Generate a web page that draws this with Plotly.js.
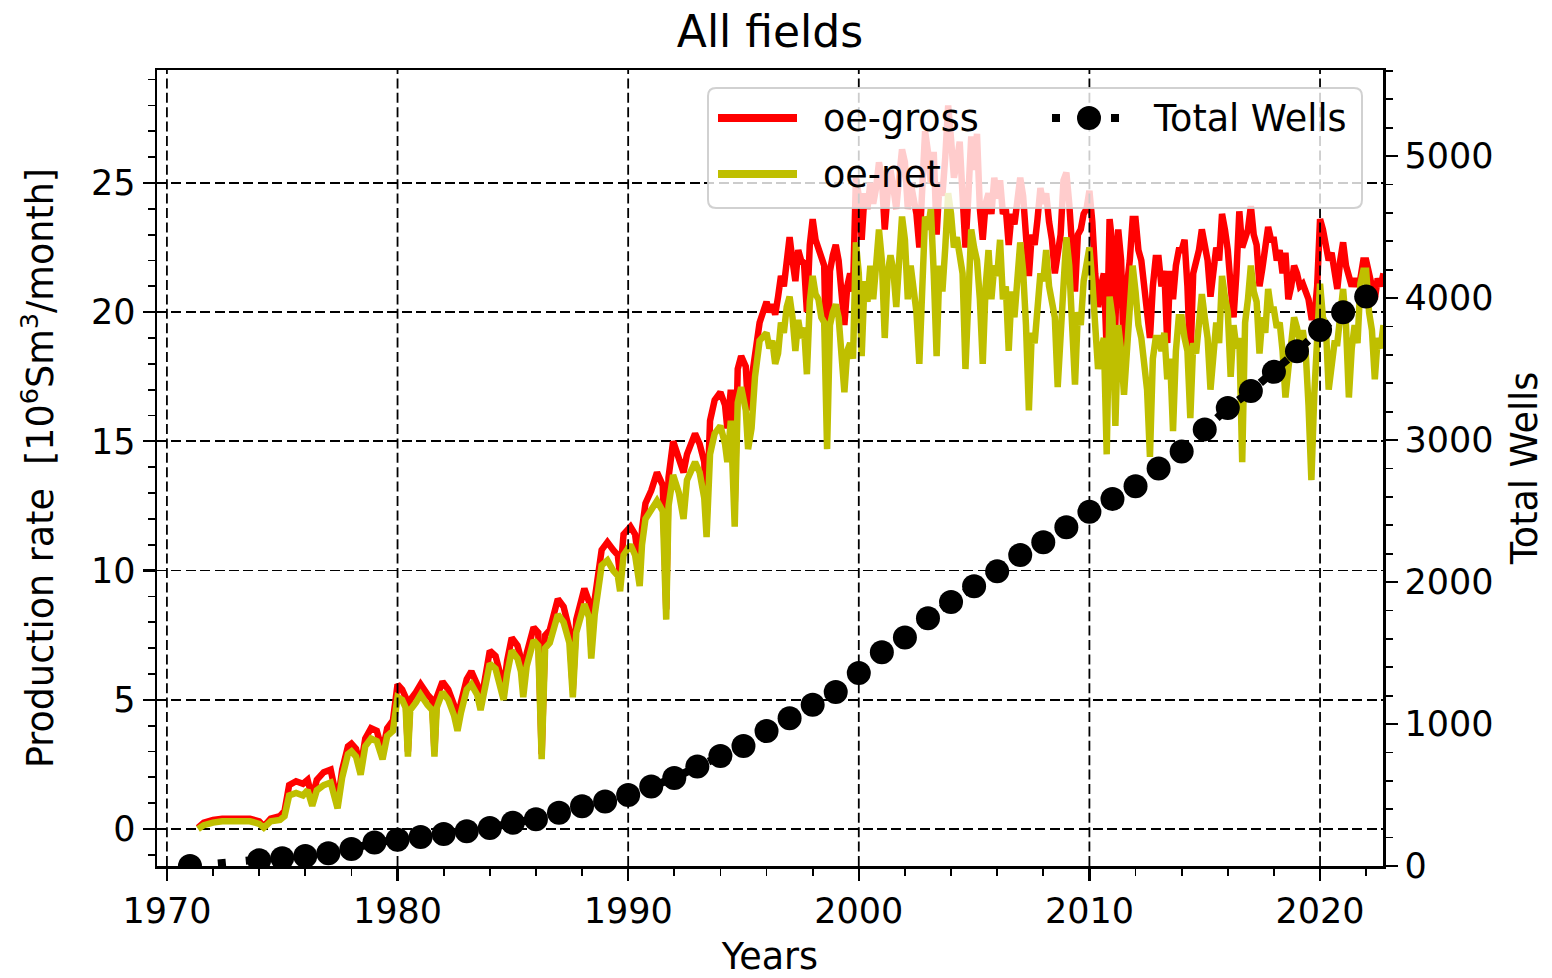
<!DOCTYPE html>
<html>
<head>
<meta charset="utf-8">
<script src="https://cdn.plot.ly/plotly-3.0.1.min.js"></script>
<style>
  html, body { margin: 0; padding: 0; background: #ffffff; }
  #chart { width: 1552px; height: 978px; }
</style>
</head>
<body>
<div id="chart"></div>
<script>
// Early production period: time stamps (decimal years)
const earlyYears = [
  1971.35, 1971.6, 1972.0, 1972.4, 1973.0, 1973.6, 1974.0, 1974.2, 1974.5, 1974.9,
  1975.1, 1975.3, 1975.6, 1975.9, 1976.1, 1976.3, 1976.5, 1976.8, 1977.1, 1977.4, 1977.6, 1977.85, 1978.0, 1978.2, 1978.4, 1978.6, 1978.85, 1979.1, 1979.35, 1979.55, 1979.8,
  1980.0, 1980.2, 1980.35, 1980.45, 1980.55, 1980.8, 1981.0, 1981.3, 1981.5, 1981.6, 1981.7, 1981.95, 1982.2, 1982.45, 1982.6, 1982.75, 1983.0, 1983.2, 1983.45, 1983.6, 1983.75, 1984.0, 1984.25, 1984.45, 1984.6, 1984.75, 1984.95,
  1985.2, 1985.35, 1985.45, 1985.6, 1985.9, 1986.1, 1986.25, 1986.4, 1986.6, 1986.95, 1987.2, 1987.45, 1987.6, 1987.75, 1988.1, 1988.3, 1988.4, 1988.55, 1988.85, 1989.1, 1989.35, 1989.55, 1989.65, 1989.8,
  1990.1, 1990.3, 1990.5, 1990.6, 1990.75, 1991.0, 1991.25, 1991.5, 1991.65, 1991.75, 1991.95, 1992.2, 1992.4, 1992.55, 1992.9, 1993.1, 1993.3, 1993.4, 1993.55, 1993.75, 1994.0, 1994.2, 1994.3, 1994.45, 1994.62, 1994.75, 1994.9,
  1995.1, 1995.2, 1995.35, 1995.5, 1995.7
];
// oe-gross, early period [10^6 Sm3/month]
const earlyGross = [
  0.05, 0.25, 0.35, 0.4, 0.4, 0.4, 0.3, 0.1, 0.4, 0.5,
  0.7, 1.7, 1.85, 1.75, 1.9, 1.2, 1.9, 2.2, 2.3, 1.0, 2.3, 3.2, 3.3, 3.1, 2.4, 3.5, 3.9, 3.8, 3.0, 3.9, 4.2,
  5.6, 5.4, 5.1, 3.0, 5.0, 5.3, 5.6, 5.2, 5.0, 3.0, 5.1, 5.7, 5.4, 4.8, 4.2, 4.9, 5.8, 6.1, 5.6, 5.0, 5.6, 6.9, 6.7, 6.0, 5.4, 6.5, 7.4,
  7.1, 6.6, 5.5, 6.8, 7.8, 7.6, 2.9, 7.5, 7.7, 8.9, 8.6, 7.7, 5.4, 8.1, 9.3, 8.8, 7.0, 8.9, 10.8, 11.1, 10.8, 10.6, 9.8, 11.4,
  11.7, 11.4, 10.0, 11.6, 12.6, 13.1, 13.8, 13.3, 8.5, 13.6, 15.0, 14.3, 13.8, 14.5, 15.3, 14.9, 14.2, 12.0, 15.8, 16.6, 16.9, 16.4, 15.5, 17.0, 12.5, 17.8, 18.3,
  17.9, 16.2, 17.4, 18.5, 19.6
];
// oe-net, early period [10^6 Sm3/month]
const earlyNet = [
  0.0, 0.15, 0.25, 0.3, 0.3, 0.3, 0.2, 0.05, 0.3, 0.35,
  0.5, 1.3, 1.4, 1.3, 1.5, 0.9, 1.5, 1.7, 1.8, 0.8, 2.0, 2.9, 3.0, 2.8, 2.1, 3.2, 3.5, 3.4, 2.7, 3.6, 3.8,
  5.1, 5.0, 4.7, 2.8, 4.6, 4.9, 5.2, 4.8, 4.6, 2.8, 4.7, 5.3, 5.0, 4.4, 3.8, 4.5, 5.4, 5.6, 5.2, 4.6, 5.2, 6.4, 6.2, 5.6, 5.0, 6.0, 6.9,
  6.6, 6.1, 5.1, 6.3, 7.3, 7.1, 2.7, 7.0, 7.2, 8.3, 8.0, 7.2, 5.1, 7.6, 8.7, 8.2, 6.6, 8.3, 10.2, 10.4, 10.0, 9.8, 9.2, 10.6,
  11.0, 10.6, 9.4, 11.0, 12.0, 12.3, 12.7, 12.3, 8.1, 12.5, 13.7, 13.0, 12.0, 13.5, 14.2, 13.8, 12.8, 11.3, 14.5, 15.3, 15.6, 14.9, 14.2, 15.8, 11.7, 16.5, 17.1,
  16.2, 14.7, 15.5, 17.5, 18.9
];

// Later production period: eight samples per year starting in 1996
const lateStartYear = 1996;
const samplesPerYear = 8;
const lateGross = [
  20.4, 20.0, 20.3, 19.9, 20.6, 21.4, 21.0, 22.0,
  22.9, 22.0, 21.2, 22.4, 22.0, 21.9, 20.0, 22.6,
  23.6, 22.8, 22.4, 22.0, 21.8, 16.5, 21.6, 22.2,
  22.6, 22.0, 21.0, 19.5, 21.0, 21.5, 20.8, 25.2,
  24.5, 22.8, 24.6, 24.0, 25.0, 24.2, 24.8, 25.8,
  25.2, 23.2, 24.6, 25.5, 24.8, 24.0, 25.2, 26.3,
  25.8, 24.0, 25.0, 24.4, 23.8, 22.5, 24.8, 27.0,
  26.2, 25.0, 26.2, 23.0, 25.0, 24.5, 26.0, 28.0,
  26.7, 25.2, 25.8, 26.6, 24.5, 22.5, 24.5, 26.8,
  25.5, 26.9, 24.0, 22.8, 24.2, 24.6, 23.8, 25.2,
  24.4, 25.1, 23.8, 24.0, 22.6, 23.8, 23.4, 24.5,
  25.2, 24.5, 23.0, 21.4, 23.0, 22.6, 23.6, 24.8,
  24.2, 24.6, 23.5, 22.8, 21.5, 22.2, 23.0, 25.1,
  25.4, 24.2, 22.6, 20.8, 23.0, 23.2, 23.8, 24.0,
  24.7, 23.5, 21.5, 20.2, 21.0, 21.5, 18.5, 23.6,
  22.6, 19.5, 23.2, 22.0, 17.9, 21.0, 22.0, 23.6,
  23.6, 22.4, 22.0, 21.0, 20.2, 19.0, 21.0, 22.1,
  22.1, 21.0, 21.6, 18.8, 21.6, 20.5, 21.8, 22.4,
  22.4, 22.8, 21.0, 18.0, 21.5, 22.0, 22.4, 23.2,
  22.6, 22.0, 20.6, 21.5, 22.5, 22.0, 23.8, 23.2,
  22.4, 21.0, 19.8, 21.5, 23.9, 22.5, 22.8, 23.2,
  24.1, 23.0, 22.6, 21.0, 21.7, 22.5, 23.3, 22.8,
  22.8, 22.0, 22.4, 21.5, 22.3, 20.5, 21.0, 21.8,
  21.5, 21.0, 21.1, 20.8, 20.5, 19.8, 19.8, 21.0,
  23.6, 23.2, 22.5, 22.0, 22.3, 21.5, 20.9, 22.0,
  22.7, 21.8, 21.4, 21.0, 21.3, 21.0, 21.3, 22.0,
  22.0, 21.6, 21.0, 20.5, 21.3, 21.0, 21.5
];
const lateNet = [
  19.2, 18.6, 18.9, 18.0, 18.4, 19.6, 19.2, 20.2,
  20.6, 19.8, 18.5, 19.7, 19.0, 19.4, 17.6, 20.4,
  21.4, 20.7, 20.5, 19.8, 19.6, 14.7, 19.5, 20.0,
  20.3, 19.8, 18.5, 16.9, 18.5, 18.8, 18.2, 22.7,
  21.5, 18.3, 21.2, 20.4, 21.8, 20.5, 21.8, 23.2,
  22.0, 19.0, 21.5, 22.2, 21.6, 20.2, 22.0, 23.7,
  22.8, 20.5, 21.8, 21.0, 20.0, 18.0, 21.5, 23.7,
  23.2, 24.0, 21.5, 18.3, 21.8, 20.8, 22.5, 24.6,
  23.8, 22.5, 22.9, 22.0, 21.5, 17.8, 21.0, 23.2,
  22.5, 22.0, 20.5, 18.0, 21.0, 22.4, 20.5, 21.8,
  21.4, 22.8, 20.5, 21.0, 18.5, 20.8, 19.8, 21.5,
  22.7, 21.6, 19.5, 16.2, 19.2, 18.8, 20.6, 21.5,
  21.2, 22.4, 21.0, 20.2, 19.8, 17.1, 19.5, 21.0,
  22.9, 21.8, 19.5, 17.2, 20.0, 19.5, 21.2, 21.8,
  22.5, 21.2, 19.0, 17.8, 18.5, 19.0, 14.5, 20.6,
  19.8, 15.6, 19.5, 18.5, 16.8, 18.5, 20.0, 21.8,
  20.8, 19.5, 19.0, 18.0, 17.0, 14.4, 18.2, 19.0,
  19.0, 18.5, 19.2, 17.4, 18.2, 15.4, 18.5, 19.8,
  19.8, 19.0, 18.5, 15.9, 18.8, 18.4, 19.5, 20.7,
  19.8, 19.0, 17.0, 18.5, 19.6, 18.8, 21.4, 20.6,
  20.0, 17.5, 19.5, 18.6, 19.0, 14.2, 19.6, 20.5,
  21.8, 20.8, 20.4, 18.4, 19.8, 19.2, 20.9, 20.1,
  20.1, 19.4, 19.6, 18.5, 16.7, 17.8, 18.6, 19.8,
  19.4, 18.8, 19.3, 18.5, 16.4, 13.5, 16.8, 19.5,
  21.1, 19.8, 19.5, 17.0, 18.2, 18.8, 18.8, 19.8,
  20.9, 19.5, 16.7, 18.6, 19.5, 18.8, 21.1, 21.6,
  21.6, 20.0, 19.3, 17.4, 19.0, 18.6, 19.5
];

// Total wells per year
const wellYears = [
  1971, 1974, 1975, 1976, 1977, 1978, 1979, 1980, 1981, 1982, 1983, 1984, 1985, 1986, 1987, 1988, 1989,
  1990, 1991, 1992, 1993, 1994, 1995, 1996, 1997, 1998, 1999, 2000, 2001, 2002, 2003, 2004, 2005, 2006,
  2007, 2008, 2009, 2010, 2011, 2012, 2013, 2014, 2015, 2016, 2017, 2018, 2019, 2020, 2021, 2022
];
const totalWells = [
  0, 40, 55, 70, 90, 120, 165, 185, 205, 225, 245, 268, 305, 330, 375, 420, 455,
  500, 560, 620, 700, 775, 845, 950, 1040, 1135, 1225, 1360, 1505, 1610, 1745, 1860, 1970, 2075,
  2190, 2280, 2385, 2495, 2585, 2675, 2800, 2920, 3075, 3225, 3345, 3480, 3625, 3775, 3900, 4010
];

// Major x tick positions (used for the vertical grid)
const decadeTicks = [1970, 1980, 1990, 2000, 2010, 2020];

// Join the two periods into one monthly-style series
const lateYears = lateGross.map((_, i) => lateStartYear + i / samplesPerYear);
const prodYears = earlyYears.concat(lateYears);
const oeGross = earlyGross.concat(lateGross);
const oeNet = earlyNet.concat(lateNet);

// Plot-area geometry in page pixels
const W = 1552, H = 978;
const PL = 157, PR = 1383, PT = 70, PB = 866;
const px2x = px => (px - PL) / (PR - PL);
const px2y = py => (PB - py) / (PB - PT);

const FONT = 'DejaVu Sans';
const OLIVE = '#bfbf00';
const GRID_DASH = '10px,4.4px';
const TEXT_SIZE = 36.5;
const TICK_SIZE = 35;

const traces = [
  {
    x: prodYears, y: oeGross, name: 'oe-gross', type: 'scatter', mode: 'lines',
    line: { color: '#ff0000', width: 6.5 }, xaxis: 'x', yaxis: 'y', hoverinfo: 'skip'
  },
  {
    x: prodYears, y: oeNet, name: 'oe-net', type: 'scatter', mode: 'lines',
    line: { color: OLIVE, width: 6.5 }, xaxis: 'x', yaxis: 'y', hoverinfo: 'skip'
  },
  {
    x: wellYears, y: totalWells, name: 'Total Wells', type: 'scatter', mode: 'lines+markers',
    line: { color: '#000000', width: 8, dash: '8px,20px' },
    marker: { color: '#000000', size: 24 },
    cliponaxis: true, xaxis: 'x', yaxis: 'y2', hoverinfo: 'skip'
  }
];

// Vertical grid drawn over the production curves
const shapes = decadeTicks.map(t => ({
  type: 'line', xref: 'x', yref: 'paper', x0: t, x1: t, y0: 0, y1: 1,
  line: { color: '#000000', width: 1.8, dash: GRID_DASH }, layer: 'above'
}));

// Legend box with rounded corners
const lx0 = px2x(708), lx1 = px2x(1362), ly0 = px2y(208), ly1 = px2y(88);
const rx = 8 / (PR - PL), ry = 8 / (PB - PT);
shapes.push({
  type: 'path', xref: 'paper', yref: 'paper', layer: 'above',
  path: `M ${lx0 + rx},${ly1} L ${lx1 - rx},${ly1} Q ${lx1},${ly1} ${lx1},${ly1 - ry} ` +
        `L ${lx1},${ly0 + ry} Q ${lx1},${ly0} ${lx1 - rx},${ly0} ` +
        `L ${lx0 + rx},${ly0} Q ${lx0},${ly0} ${lx0},${ly0 + ry} ` +
        `L ${lx0},${ly1 - ry} Q ${lx0},${ly1} ${lx0 + rx},${ly1} Z`,
  fillcolor: 'rgba(255,255,255,0.8)', line: { color: 'rgba(204,204,204,0.9)', width: 2 }
});
// Legend samples
shapes.push({ type: 'line', xref: 'paper', yref: 'paper', layer: 'above',
  x0: px2x(718), x1: px2x(797), y0: px2y(118), y1: px2y(118), line: { color: '#ff0000', width: 8 } });
shapes.push({ type: 'line', xref: 'paper', yref: 'paper', layer: 'above',
  x0: px2x(718), x1: px2x(797), y0: px2y(174), y1: px2y(174), line: { color: OLIVE, width: 8 } });
[1056, 1115].forEach(cx => shapes.push({
  type: 'rect', xref: 'paper', yref: 'paper', layer: 'above',
  x0: px2x(cx - 4), x1: px2x(cx + 4), y0: px2y(122), y1: px2y(114),
  fillcolor: '#000000', line: { width: 0 }
}));
shapes.push({ type: 'circle', xref: 'paper', yref: 'paper', layer: 'above',
  x0: px2x(1089 - 12), x1: px2x(1089 + 12), y0: px2y(118 + 12), y1: px2y(118 - 12),
  fillcolor: '#000000', line: { width: 0 } });

const legendText = (text, px, py) => ({
  text, xref: 'paper', yref: 'paper', x: px2x(px), y: px2y(py),
  xanchor: 'left', yanchor: 'middle', showarrow: false,
  font: { family: FONT, size: TEXT_SIZE, color: '#000000' }
});
const annotations = [
  legendText('oe-gross', 821, 118),
  legendText('oe-net', 821, 174),
  legendText('Total Wells', 1151, 118)
];

const tickStyle = {
  ticks: 'outside', ticklen: 12, tickwidth: 2.2, tickcolor: '#000000',
  showline: true, linecolor: '#000000', linewidth: 2.5,
  zeroline: false, tickfont: { family: FONT, size: TICK_SIZE, color: '#000000' }
};
const minorStyle = { ticks: 'outside', ticklen: 7, tickwidth: 1.8, tickcolor: '#000000', showgrid: false };

const layout = {
  width: W, height: H,
  margin: { l: PL, r: W - PR, t: PT, b: H - PB, pad: 0 },
  paper_bgcolor: '#ffffff', plot_bgcolor: '#ffffff',
  showlegend: false,
  font: { family: FONT, size: TEXT_SIZE, color: '#000000' },
  title: {
    text: 'All fields', font: { family: FONT, size: 44, color: '#000000' },
    x: 0.5, xref: 'paper', xanchor: 'center',
    y: 1 - 32 / H, yref: 'container', yanchor: 'middle'
  },
  xaxis: Object.assign({}, tickStyle, {
    range: [1969.57, 2022.73], tickmode: 'linear', tick0: 1970, dtick: 10,
    mirror: true, showgrid: false,
    minor: Object.assign({}, minorStyle, { tick0: 1970, dtick: 2 }),
    title: { text: 'Years', font: { family: FONT, size: TEXT_SIZE }, standoff: 24 }
  }),
  yaxis: Object.assign({}, tickStyle, {
    range: [-1.43, 29.37], tickmode: 'linear', tick0: 0, dtick: 5,
    showgrid: true, gridcolor: '#000000', gridwidth: 1.8, griddash: GRID_DASH,
    minor: Object.assign({}, minorStyle, { tick0: 0, dtick: 1 }),
    title: { text: 'Production rate\u00a0 [10<sup>6</sup>Sm<sup>3</sup>/month]', font: { family: FONT, size: TEXT_SIZE }, standoff: 26 }
  }),
  yaxis2: Object.assign({}, tickStyle, {
    overlaying: 'y', side: 'right', anchor: 'x',
    range: [0, 5606], tickmode: 'linear', tick0: 0, dtick: 1000,
    showgrid: false,
    minor: Object.assign({}, minorStyle, { tick0: 0, dtick: 200 }),
    title: { text: 'Total Wells', font: { family: FONT, size: TEXT_SIZE }, standoff: 19 }
  }),
  shapes, annotations
};

Plotly.newPlot('chart', traces, layout, { staticPlot: true, displayModeBar: false });
</script>
</body>
</html>
